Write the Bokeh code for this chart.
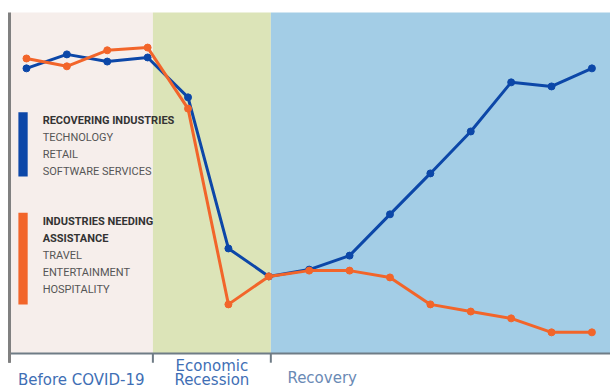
from bokeh.plotting import figure
from bokeh.models import ColumnDataSource, Range1d
from bokeh.core.properties import value
from bokeh.embed import file_html
from bokeh.resources import INLINE

# ---- data ----
periods = list(range(15))
recovering = [83.6, 87.7, 85.6, 86.8, 75.1, 30.8, 22.6, 24.6, 28.7, 40.8, 52.8, 65.1, 79.5, 78.3, 83.6]
assistance = [86.5, 84.2, 88.9, 89.7, 71.8, 14.4, 22.6, 24.3, 24.3, 22.3, 14.4, 12.3, 10.3, 6.2, 6.2]

phase_names = ["Before COVID-19", "Economic", "Recession", "Recovery"]
phase_edges = [-0.42, 3.13, 6.05, 14.46]
phase_colors = ["#f6eeeb", "#dce4b8", "#a3cde6"]

legend_blue = ["RECOVERING INDUSTRIES", "TECHNOLOGY", "RETAIL", "SOFTWARE SERVICES"]
legend_orange = ["INDUSTRIES NEEDING", "ASSISTANCE", "TRAVEL", "ENTERTAINMENT", "HOSPITALITY"]

BLUE = "#0c47a8"
ORANGE = "#f2652a"
AXIS = "#6f7c86"

p = figure(width=610, height=390, output_backend="svg", toolbar_location=None,
           x_range=Range1d(-0.643, 14.46), y_range=Range1d(-10.85, 103.5),
           x_axis_location=None, y_axis_location=None,
           min_border_left=0, min_border_right=0, min_border_top=0, min_border_bottom=0)
p.grid.visible = False
p.outline_line_color = None
p.background_fill_color = "white"
p.border_fill_color = "white"

# phase bands
band_src = ColumnDataSource(dict(left=phase_edges[:-1], right=phase_edges[1:],
                                 color=phase_colors))
p.quad(left="left", right="right", bottom=0, top=100, fill_color="color",
       line_color=None, source=band_src)

# axis line, ticks at phase edges, left line
p.segment(x0=[phase_edges[0]], y0=[0], x1=[phase_edges[-1]], y1=[0],
          line_color=AXIS, line_width=2)
p.segment(x0=phase_edges[:-1], y0=[0] * 3, x1=phase_edges[:-1], y1=[-2.7] * 3,
          line_color=AXIS, line_width=2)
p.segment(x0=[phase_edges[0]], y0=[-2.7], x1=[phase_edges[0]], y1=[100],
          line_color="#808080", line_width=3)

# lines
p.line(periods, recovering, line_color=BLUE, line_width=3)
p.scatter(periods, recovering, size=7, fill_color=BLUE, line_color=BLUE)
p.line(periods, assistance, line_color=ORANGE, line_width=3)
p.scatter(periods, assistance, size=7, fill_color=ORANGE, line_color=ORANGE)

# phase labels below the axis
lab_x = [(phase_edges[0] + phase_edges[1]) / 2, (phase_edges[1] + phase_edges[2]) / 2,
         (phase_edges[1] + phase_edges[2]) / 2, phase_edges[2] + 0.41]
lab_y = [-7.9, -3.6, -7.9, -7.2]
lab_align = ["center", "center", "center", "left"]
lab_size = ["15px", "15px", "15px", "15px"]
lab_color = ["#3f6fb5", "#3f6fb5", "#3f6fb5", "#6a8ab5"]
p.text(x=lab_x, y=lab_y, text=phase_names, text_align=lab_align, text_baseline="middle",
       text_font=value("DejaVu Sans"), text_font_size=lab_size, text_color=lab_color)

# legend blocks
p.quad(left=[-0.2, -0.2], right=[0.03, 0.03], bottom=[51.9, 14.4], top=[70.7, 41.3],
       fill_color=[BLUE, ORANGE], line_color=None)

ys_blue = [68.3, 63.3, 58.4, 53.4]
p.text(x=[0.40] * 4, y=ys_blue, text=legend_blue, text_baseline="middle",
       text_font=value("Roboto"), text_font_size="11px",
       text_font_style=["bold", "normal", "normal", "normal"],
       text_color=["#333333", "#555555", "#555555", "#555555"])
ys_orange = [38.7, 33.7, 28.7, 23.8, 18.8]
p.text(x=[0.40] * 5, y=ys_orange, text=legend_orange, text_baseline="middle",
       text_font=value("Roboto"), text_font_size="11px",
       text_font_style=["bold", "bold", "normal", "normal", "normal"],
       text_color=["#333333", "#333333", "#555555", "#555555", "#555555"])

open("out.html", "w").write(file_html(p, INLINE))
